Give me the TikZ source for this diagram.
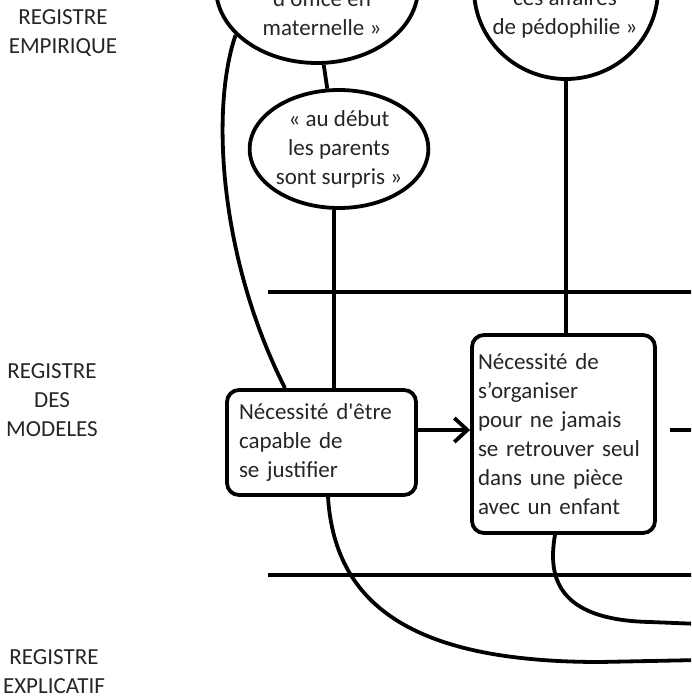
\documentclass[tikz,border=0pt]{standalone}
\usepackage{fontspec}
\newfontfamily\cf{Carlito}
\usetikzlibrary{shapes.geometric,arrows.meta}
\begin{document}
\begin{tikzpicture}[x=1pt,y=-1pt,
  every node/.style={font=\cf\fontsize{23}{29}\selectfont, text=black!85},
  ln/.style={line width=3.8pt, black},
  oval/.style={ellipse, draw, line width=3.8pt, inner sep=0pt, align=center},
  box/.style={draw, rounded corners=12pt, line width=3.8pt, inner sep=0pt, align=left},
  reg/.style={align=center, inner sep=0pt},
  txt/.style={align=center, inner sep=0pt}]
\useasboundingbox (0,0) rectangle (691,699);
\clip (0,0) rectangle (691,699);
\fill[white] (0,0) rectangle (691,699);

% register labels
\node[reg] (r1) at (63,33.5) {REGISTRE\\EMPIRIQUE};
\node[reg] (r2) at (52,400.5) {REGISTRE\\DES\\MODELES};
\node[reg] (r3) at (54,672) {REGISTRE\\EXPLICATIF};

% empirical ovals
\node[oval, minimum width=202, minimum height=150] (e1) at (317,-12) {};
\node[txt] (t1) at (322,13) {d'office en\\maternelle »};
\node[oval, minimum width=178, minimum height=118] (e2) at (339,149) {« au début\\les parents\\sont surpris »};
\node[oval, minimum width=184, minimum height=180] (e3) at (566,-11) {};
\node[txt] (t3) at (565,14) {ces affaires\\de pédophilie »};

% model boxes
\node[box, minimum width=189, minimum height=105, text width=165] (b1) at (321.5,442.5)
  {Nécessité d'être\\capable de\\se justifier};
\node[box, minimum width=183, minimum height=198, text width=171] (b2) at (563.5,434)
  {Nécessité de\\s’organiser\\pour ne jamais\\se retrouver seul\\dans une pièce\\avec un enfant};

% register separators
\coordinate (h1a) at (268,292); \coordinate (h1b) at (700,292);
\coordinate (h2a) at (268,575); \coordinate (h2b) at (700,575);
\draw[ln, line width=3.5pt] (h1a) -- (h1b);
\draw[ln, line width=3.5pt] (h2a) -- (h2b);

% connectors
\draw[ln] (e1.210) .. controls (210,110) and (220,260) .. ([xshift=-36.5pt]b1.north);
\draw[ln] (e1.275) -- (e2.101);
\draw[ln] (e2.265) -- (e2.265 |- b1.north);
\draw[ln] (e3.south) -- (e3.south |- b2.north);
\draw[ln, -{Straight Barb[length=13pt,width=24pt]}] ([yshift=12.5pt]b1.east) -- ([yshift=12.5pt]b1.east -| b2.west);

\coordinate (s1) at (670,430); \coordinate (s2) at (700,430);
\draw[ln] (s1) -- (s2);

\coordinate (ea) at (700,660);
\draw[ln] ([xshift=6.5pt]b1.south) .. controls (335,610) and (420,662) .. (600,662) -- (ea);
\coordinate (eb) at (700,624);
\draw[ln] ([xshift=-8.5pt]b2.south) .. controls (548,575) and (555,620) .. (650,622) -- (eb);
\end{tikzpicture}
\end{document}
